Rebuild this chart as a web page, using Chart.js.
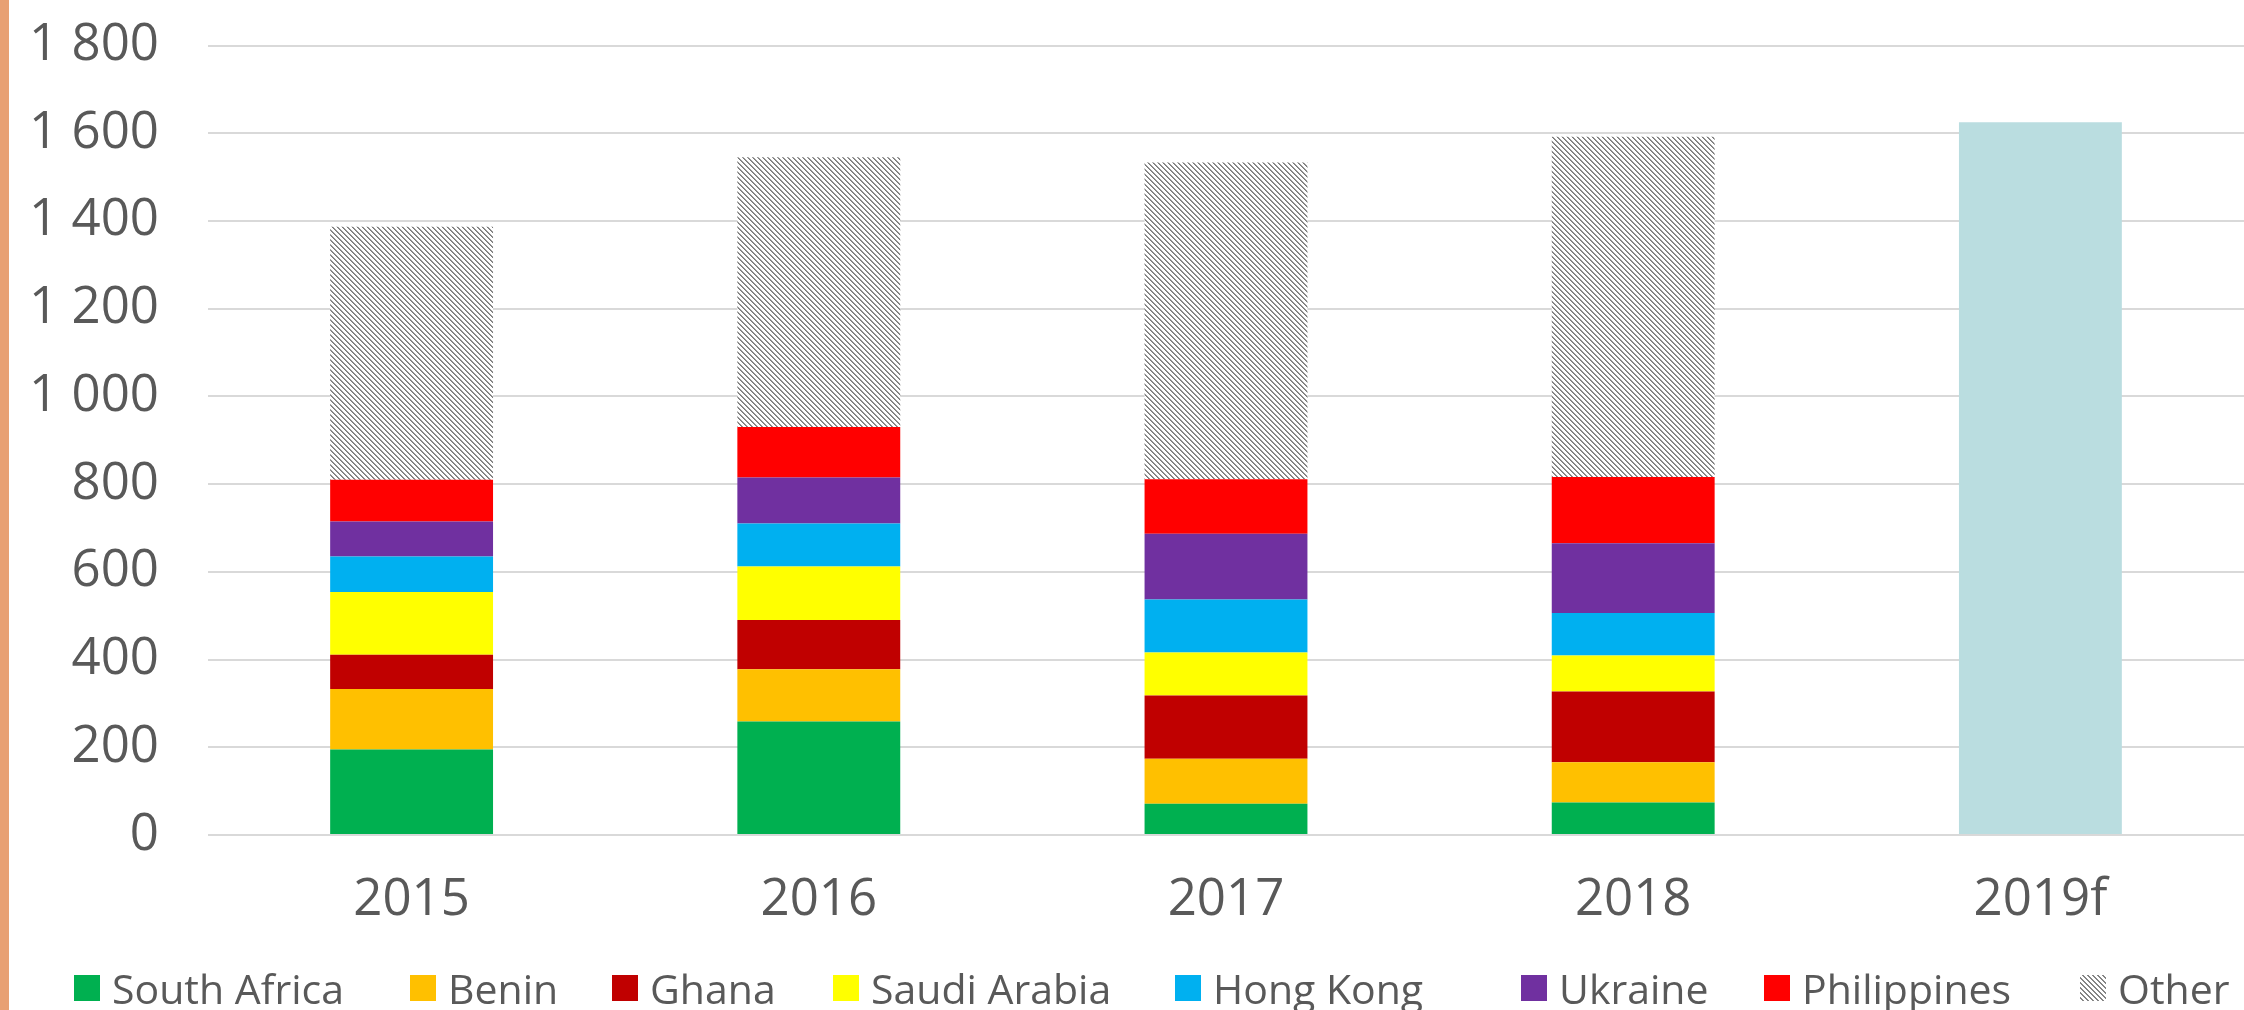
<!DOCTYPE html>
<html>
<head>
<meta charset="utf-8">
<style>
  html, body { margin: 0; padding: 0; background: #ffffff; }
  #wrap { position: relative; width: 2244px; height: 1010px; overflow: hidden; }
  #accent { position: absolute; left: 0; top: 0; width: 9px; height: 1010px; background: #E8A073; }
  canvas { position: absolute; left: 0; top: 0; }
  .lg-item { position: absolute; top: 962px; height: 52px; display: flex; align-items: center; white-space: nowrap;
             font-family: 'Open Sans', 'Noto Sans', sans-serif; font-size: 41px; color: #595959; }
  .lg-box { width: 26px; height: 26px; margin-right: 12px; flex: 0 0 auto; }
  .lg-hatch { background: repeating-linear-gradient(45deg, #ffffff 0px, #ffffff 1.8px, #858585 1.8px, #858585 3.5px); }
</style>
<script src="https://cdn.jsdelivr.net/npm/chart.js@4/dist/chart.umd.min.js"></script>
</head>
<body>
<div id="wrap">
  <canvas id="chart" width="2244" height="1010"></canvas>
  <div id="accent"></div>
  <div id="legend"></div>
</div>
<script>
// Years on the category axis
const categories = ['2015', '2016', '2017', '2018', '2019f'];

// Stacked contributions by origin
const southAfrica = [195, 259, 71, 74, null];
const benin       = [138, 119, 103, 92, null];
const ghana       = [78, 112, 144, 161, null];
const saudiArabia = [143, 122, 98, 82, null];
const hongKong    = [81, 98, 121, 97, null];
const ukraine     = [80, 105, 150, 159, null];
const philippines = [95, 115, 124, 151, null];
const other       = [577, 615, 722, 776, null];

// Forecast total (single bar)
const forecast    = [null, null, null, null, 1625];

// Value axis ticks
const yTicks = [0, 200, 400, 600, 800, 1000, 1200, 1400, 1600, 1800];

const seriesNames = ['South Africa', 'Benin', 'Ghana', 'Saudi Arabia', 'Hong Kong', 'Ukraine', 'Philippines', 'Other'];

// Diagonal hatch used for the "Other" segment
function makeHatch() {
  const P = 5;
  const c = document.createElement('canvas');
  c.width = P; c.height = P;
  const g = c.getContext('2d');
  g.fillStyle = '#ffffff';
  g.fillRect(0, 0, P, P);
  for (let y = 0; y < P; y++) {
    for (let x = 0; x < P; x++) {
      const d = ((x - y) % P + P) % P;
      if (d === 0) { g.fillStyle = '#7a7a7a'; g.fillRect(x, y, 1, 1); }
      else if (d === 1) { g.fillStyle = '#9a9a9a'; g.fillRect(x, y, 1, 1); }
    }
  }
  return g.createPattern(c, 'repeat');
}

const ctx = document.getElementById('chart').getContext('2d');
const hatch = makeHatch();

const fmt = v => String(v).replace(/\B(?=(\d{3})+(?!\d))/g, ' ');
const FONT = "'Open Sans', 'Noto Sans', sans-serif";
const TEXT = '#595959';

const seriesData = [southAfrica, benin, ghana, saudiArabia, hongKong, ukraine, philippines, other];
const seriesColors = ['#00B050', '#FFC000', '#C00000', '#FFFF00', '#00B0F0', '#7030A0', '#FF0000', hatch];

const datasets = seriesNames.map((name, i) => ({
  label: name,
  data: seriesData[i],
  backgroundColor: seriesColors[i],
  borderWidth: 0,
  stack: 'total'
}));
datasets.push({
  label: '2019f',
  data: forecast,
  backgroundColor: '#BADDE0',
  borderWidth: 0,
  stack: 'total'
});

new Chart(ctx, {
  type: 'bar',
  data: { labels: categories, datasets },
  options: {
    responsive: false,
    animation: false,
    devicePixelRatio: 1,
    layout: { padding: { top: 45.5, right: 0, bottom: 75, left: 0 } },
    datasets: { bar: { categoryPercentage: 0.4, barPercentage: 1.0 } },
    plugins: {
      tooltip: { enabled: false },
      legend: { display: false }
    },
    scales: {
      x: {
        stacked: true,
        grid: { display: false, drawTicks: false },
        border: { display: false },
        ticks: { color: TEXT, font: { family: FONT, size: 51 }, padding: 35 },
        afterFit: s => { s.height = 100; s.paddingLeft = 0; s.paddingRight = 0; }
      },
      y: {
        stacked: true,
        min: 0,
        max: 1800,
        afterBuildTicks: s => { s.ticks = yTicks.map(v => ({ value: v })); },
        grid: { color: '#D9D9D9', lineWidth: 2, drawTicks: false },
        border: { display: false },
        ticks: {
          color: TEXT,
          font: { family: FONT, size: 51 },
          padding: 49,
          callback: v => fmt(v)
        },
        afterFit: s => { s.width = 208; s.paddingTop = 0; s.paddingBottom = 0; }
      }
    }
  }
});

// Legend row under the chart
const legendLeft = [74, 410, 612, 833, 1175, 1521, 1764, 2080];
const legendColors = ['#00B050', '#FFC000', '#C00000', '#FFFF00', '#00B0F0', '#7030A0', '#FF0000', null];
const legendEl = document.getElementById('legend');
seriesNames.forEach((name, i) => {
  const item = document.createElement('div');
  item.className = 'lg-item';
  item.style.left = legendLeft[i] + 'px';
  const box = document.createElement('span');
  box.className = 'lg-box' + (legendColors[i] ? '' : ' lg-hatch');
  if (legendColors[i]) box.style.background = legendColors[i];
  const txt = document.createElement('span');
  txt.textContent = name;
  item.appendChild(box);
  item.appendChild(txt);
  legendEl.appendChild(item);
});
</script>
</body>
</html>
